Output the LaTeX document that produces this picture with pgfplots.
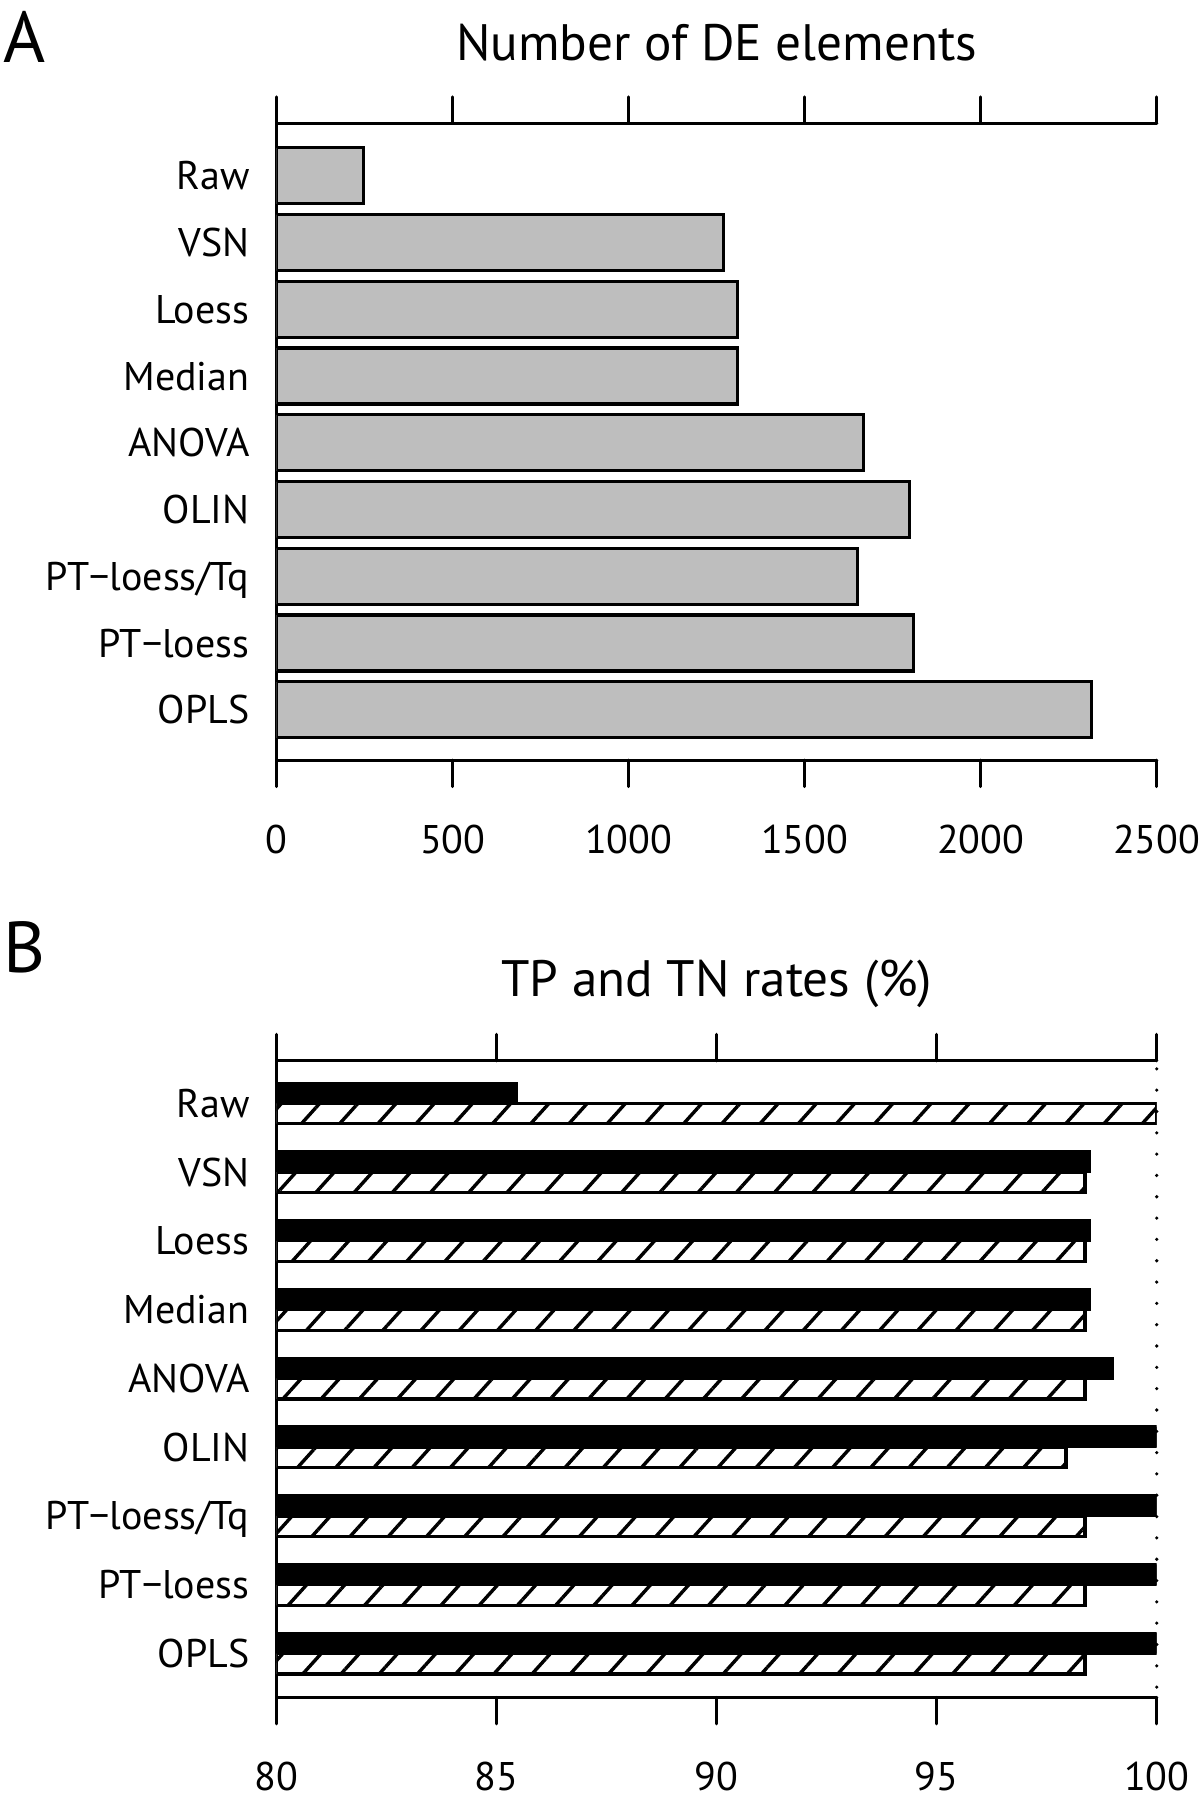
\documentclass[border=0pt]{standalone}
\usepackage{fontspec}
\setmainfont{PT Sans}
\usepackage{pgfplots}
\pgfplotsset{compat=1.18}
\usetikzlibrary{patterns.meta}

\pgfplotstableread{
y  val
1  246
2  1269
3  1308
4  1308
5  1666
6  1797
7  1649
8  1809
9  2314
}\deA

\pgfplotstableread{
y  tp     tn
1  85.46  100
2  98.48  98.37
3  98.48  98.37
4  98.48  98.37
5  99.00  98.37
6  100    97.94
7  100    98.37
8  100    98.37
9  100    98.37
}\rates

\pgfplotsset{
  common/.style={
    scale only axis, width=220pt,
    separate axis lines,
    axis x line=box, axis y line*=left,
    axis line style={line width=0.8pt, line cap=round},
    xtick pos=both, xtick align=outside,
    major tick length=6.6pt,
    every tick/.style={black, line width=0.8pt, line cap=round},
    ytick style={draw=none},
    y dir=reverse, ytick={1,...,9},
    yticklabels={Raw,VSN,Loess,Median,ANOVA,OLIN,PT−loess/Tq,PT−loess,OPLS},
    tick label style={font=\fontsize{10pt}{12pt}\selectfont},
    yticklabel style={text height=0.7em, text depth=0pt, xshift=-3.3pt},
    xticklabel shift=6.1pt,
    /pgf/number format/assume math mode=true,
    /pgf/number format/1000 sep={},
  }
}

\begin{document}
\begin{tikzpicture}
\useasboundingbox (0,0) rectangle (300pt,-449.5pt);

% Panel A
\begin{axis}[common,
  at={(69.18pt,-30.83pt)}, anchor=north west,
  height=159.2pt,
  xmin=0, xmax=2500, xtick={0,500,...,2500},
  ymin=0.214, ymax=9.754,
]
\addplot[xbar, bar width=0.84, bar shift=0, fill={rgb,255:red,190;green,190;blue,190}, draw=black, line width=0.8pt]
  table[x=val, y=y] {\deA};
\end{axis}

% Panel B
\begin{axis}[common,
  at={(69.18pt,-265.18pt)}, anchor=north west,
  height=159.15pt,
  xmin=80, xmax=100, xtick={80,85,...,100},
  ymin=0.382, ymax=9.637,
]
\addplot[xbar, bar width=0.298, bar shift=-0.149, fill=black, draw=black, line width=0.6pt]
  table[x=tp, y=y] {\rates};
\addplot[xbar, bar width=0.298, bar shift=0.149, fill=white, draw=black, line width=0.8pt,
  postaction={pattern={Lines[angle=48,distance=7.1pt,line width=0.85pt]}, pattern color=black}]
  table[x=tn, y=y] {\rates};
\end{axis}

% Panel B reference line at 100 (unclipped overlay)
\begin{axis}[
  at={(69.18pt,-265.18pt)}, anchor=north west,
  scale only axis, width=220pt, height=159.15pt,
  xmin=80, xmax=100, ymin=0.382, ymax=9.637, y dir=reverse,
  hide axis, clip=false,
]
\addplot[black, line width=0.9pt, line cap=round, dash pattern=on 0pt off 5.33pt]
  coordinates {(100,0.5) (100,9.637)};
\end{axis}

% titles and panel letters
\node[anchor=base, font=\fontsize{12.8pt}{15pt}\selectfont] at (179.2pt,-15.2pt) {Number of DE elements};
\node[anchor=base, font=\fontsize{12.8pt}{15pt}\selectfont] at (179.2pt,-249pt) {TP and TN rates (\%)};
\node[anchor=base west, inner sep=0pt, font=\fontsize{18pt}{20pt}\selectfont] at (0.6pt,-15.75pt) {A};
\node[anchor=base west, inner sep=0pt, font=\fontsize{18pt}{20pt}\selectfont] at (0.6pt,-243pt) {B};
\end{tikzpicture}
\end{document}
